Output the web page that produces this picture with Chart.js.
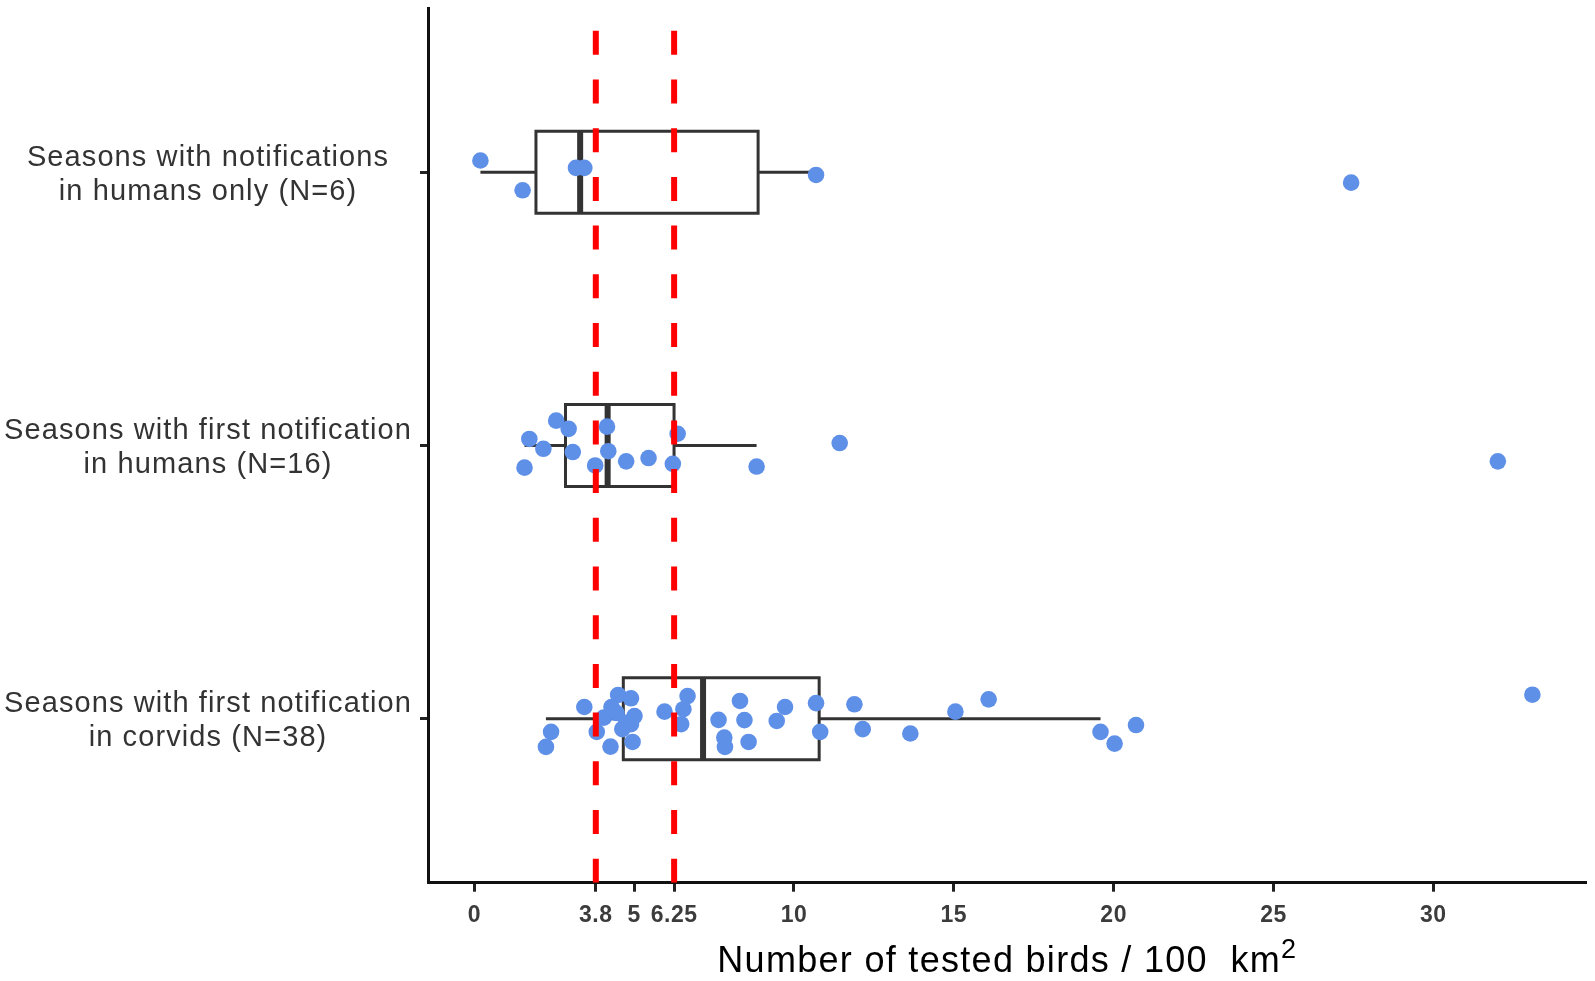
<!DOCTYPE html>
<html>
<head>
<meta charset="utf-8">
<script src="https://cdn.jsdelivr.net/npm/chart.js@4.4.1/dist/chart.umd.min.js"></script>
<style>
html,body{margin:0;padding:0;background:#ffffff;}
canvas{display:block;}
</style>
</head>
<body>
<canvas id="chart" width="1595" height="981"></canvas>
<script>
// ---------------- data ----------------
const categoryLabels = [
  ["Seasons with notifications", "in humans only (N=6)"],
  ["Seasons with first notification", "in humans (N=16)"],
  ["Seasons with first notification", "in corvids (N=38)"]
];
const categoryPositions = [3, 2, 1];

const humansOnlyValues = [0.19, 1.51, 3.18, 3.44, 10.69, 27.43];
const humansOnlyJitter = [0.043, -0.066, 0.016, 0.016, -0.010, -0.038];

const humansFirstValues = [2.56, 2.95, 1.72, 2.16, 1.57, 3.08, 3.78, 4.15, 4.19, 4.75, 5.45, 6.21, 6.36, 8.83, 11.43, 32.02];
const humansFirstJitter = [0.091, 0.061, 0.024, -0.012, -0.081, -0.024, -0.073, 0.069, -0.021, -0.058, -0.046, -0.067, 0.043, -0.077, 0.009, -0.058];

const corvidsFirstValues = [2.24, 2.40, 3.44, 3.83, 4.05, 4.26, 4.29, 4.45, 4.50, 4.63, 4.75, 4.90, 4.90, 4.95, 5.01,
  5.95, 6.47, 6.54, 6.67, 7.64, 7.82, 7.84, 8.31, 8.45, 8.58, 9.46, 9.72, 10.69, 10.82, 11.89, 12.15, 13.64,
  15.05, 16.09, 19.59, 20.03, 20.70, 33.10];
const corvidsFirstJitter = [-0.103, -0.048, 0.043, -0.048, 0.004, -0.102, 0.043, 0.021, 0.087, -0.038, -0.015, 0.075, -0.020, -0.085, 0.010,
  0.026, -0.020, 0.035, 0.083, -0.004, -0.069, -0.103, 0.065, -0.005, -0.085, -0.008, 0.043, 0.057, -0.048, 0.053, -0.038, -0.054,
  0.026, 0.071, -0.048, -0.091, -0.023, 0.088];

const thresholdValues = [3.8, 6.25];
const xTickValues = [0, 3.8, 5, 6.25, 10, 15, 20, 25, 30];
const xAxisTitleMain = "Number of tested birds / 100  km";
const xAxisTitleSup = "2";

// ---------------- layout / style constants ----------------
const X_MIN = -1.45, X_MAX = 34.8;
const Y_MIN = 0.4, Y_MAX = 3.6;
const BOX_HALF = 0.15;
const FONT = '"Liberation Sans", Arial, Helvetica, sans-serif';
const BOX_COLOR = '#333333';
const POINT_COLOR = '#5f90e8';

// ---------------- box statistics (ggplot-style, type 7 quantiles) ----------------
function quantile(sorted, p) {
  const h = (sorted.length - 1) * p;
  const lo = Math.floor(h), hi = Math.ceil(h);
  return sorted[lo] + (h - lo) * (sorted[hi] - sorted[lo]);
}
function boxStats(values) {
  const s = values.slice().sort((a, b) => a - b);
  const q1 = quantile(s, 0.25), med = quantile(s, 0.5), q3 = quantile(s, 0.75);
  const iqr = q3 - q1;
  const lo = Math.min(...s.filter(v => v >= q1 - 1.5 * iqr));
  const hi = Math.max(...s.filter(v => v <= q3 + 1.5 * iqr));
  return {q1, med, q3, lo, hi};
}

const groups = [
  {values: humansOnlyValues, jitter: humansOnlyJitter, pos: categoryPositions[0]},
  {values: humansFirstValues, jitter: humansFirstJitter, pos: categoryPositions[1]},
  {values: corvidsFirstValues, jitter: corvidsFirstJitter, pos: categoryPositions[2]}
];

const lineBase = {showLine: true, fill: false, tension: 0, pointRadius: 0, pointHoverRadius: 0, borderColor: BOX_COLOR};
const datasets = [];

// threshold lines (on top)
thresholdValues.forEach(t => {
  datasets.push(Object.assign({}, lineBase, {
    data: [{x: t, y: Y_MIN}, {x: t, y: Y_MAX}],
    borderColor: '#ff0000', borderWidth: 6, borderDash: [24, 24.7], borderCapStyle: 'butt', order: 1
  }));
});

groups.forEach(g => {
  const st = boxStats(g.values);
  const p = g.pos;
  // jittered points
  datasets.push({
    data: g.values.map((v, i) => ({x: v, y: p + g.jitter[i]})),
    showLine: false, pointRadius: 8.3, pointHoverRadius: 8.3, pointBorderWidth: 0,
    pointBackgroundColor: POINT_COLOR, backgroundColor: POINT_COLOR, borderColor: POINT_COLOR, order: 2
  });
  // box
  datasets.push(Object.assign({}, lineBase, {
    data: [{x: st.q1, y: p - BOX_HALF}, {x: st.q3, y: p - BOX_HALF}, {x: st.q3, y: p + BOX_HALF},
           {x: st.q1, y: p + BOX_HALF}, {x: st.q1, y: p - BOX_HALF}],
    borderWidth: 3, borderCapStyle: 'square', borderJoinStyle: 'miter', order: 3
  }));
  // median
  datasets.push(Object.assign({}, lineBase, {
    data: [{x: st.med, y: p - BOX_HALF}, {x: st.med, y: p + BOX_HALF}],
    borderWidth: 6, borderCapStyle: 'butt', order: 3
  }));
  // whiskers
  datasets.push(Object.assign({}, lineBase, {
    data: [{x: st.lo, y: p}, {x: st.q1, y: p}], borderWidth: 3, borderCapStyle: 'butt', order: 3
  }));
  datasets.push(Object.assign({}, lineBase, {
    data: [{x: st.q3, y: p}, {x: st.hi, y: p}], borderWidth: 3, borderCapStyle: 'butt', order: 3
  }));
});

function withSpacing(scale, method, spacing, dy) {
  if (scale['_patched_' + method]) return;
  const orig = scale[method];
  scale[method] = function (area) {
    const c = this.ctx;
    c.save();
    c.letterSpacing = spacing;
    if (dy) c.translate(0, dy);
    orig.call(this, area);
    c.restore();
  };
  scale['_patched_' + method] = true;
}

new Chart(document.getElementById('chart'), {
  type: 'scatter',
  data: {datasets},
  options: {
    responsive: false,
    animation: false,
    events: [],
    devicePixelRatio: 1,
    layout: {padding: {left: 0, right: 8, top: 5, bottom: 0}},
    plugins: {legend: {display: false}, tooltip: {enabled: false}, title: {display: false}},
    scales: {
      x: {
        type: 'linear', position: 'bottom', min: X_MIN, max: X_MAX,
        afterBuildTicks: (scale) => { scale.ticks = xTickValues.map(v => ({value: v})); },
        afterFit: (scale) => {
          scale.height = 98.3; scale.paddingLeft = 0; scale.paddingRight = 0;
          withSpacing(scale, 'drawLabels', '0.5px', 0);
          if (!scale._patchedTitle) {
            scale.drawTitle = function () {
              const c = this.ctx;
              c.save();
              c.letterSpacing = '1.3px';
              c.fillStyle = '#000000';
              c.textBaseline = 'alphabetic';
              c.textAlign = 'left';
              c.font = '36px ' + FONT;
              const w1 = c.measureText(xAxisTitleMain).width;
              c.font = '27px ' + FONT;
              const w2 = c.measureText(xAxisTitleSup).width;
              const cx = (this.left + this.right) / 2;
              const x0 = cx - (w1 + w2) / 2;
              c.font = '36px ' + FONT;
              c.fillText(xAxisTitleMain, x0, this.bottom - 9.5);
              c.font = '27px ' + FONT;
              c.fillText(xAxisTitleSup, x0 + w1, this.bottom - 23);
              c.restore();
            };
            scale._patchedTitle = true;
          }
        },
        title: {display: true, text: xAxisTitleMain + '²'},
        ticks: {
          autoSkip: false, maxRotation: 0, minRotation: 0, padding: 10,
          color: '#3c3c3c', font: {family: FONT, size: 23, weight: 'bold', lineHeight: 1.2},
          callback: (v) => String(v)
        },
        grid: {display: true, drawOnChartArea: false, drawTicks: true, tickLength: 9, tickWidth: 3, tickColor: '#222222'},
        border: {display: true, width: 3, color: '#111111'}
      },
      y: {
        type: 'linear', position: 'left', min: Y_MIN, max: Y_MAX,
        afterBuildTicks: (scale) => { scale.ticks = categoryPositions.map(v => ({value: v})); },
        afterFit: (scale) => {
          scale.width = 428; scale.paddingTop = 0; scale.paddingBottom = 0;
          withSpacing(scale, 'drawLabels', '1.1px', 2.5);
        },
        ticks: {
          autoSkip: false, crossAlign: 'center', padding: 25,
          color: '#333333', font: {family: FONT, size: 29, weight: 'normal', lineHeight: 1.16},
          callback: (v) => {
            const i = categoryPositions.indexOf(v);
            return i >= 0 ? categoryLabels[i] : '';
          }
        },
        grid: {display: true, drawOnChartArea: false, drawTicks: true, tickLength: 8, tickWidth: 3, tickColor: '#222222'},
        border: {display: true, width: 3, color: '#111111'}
      }
    }
  }
});
</script>
</body>
</html>
